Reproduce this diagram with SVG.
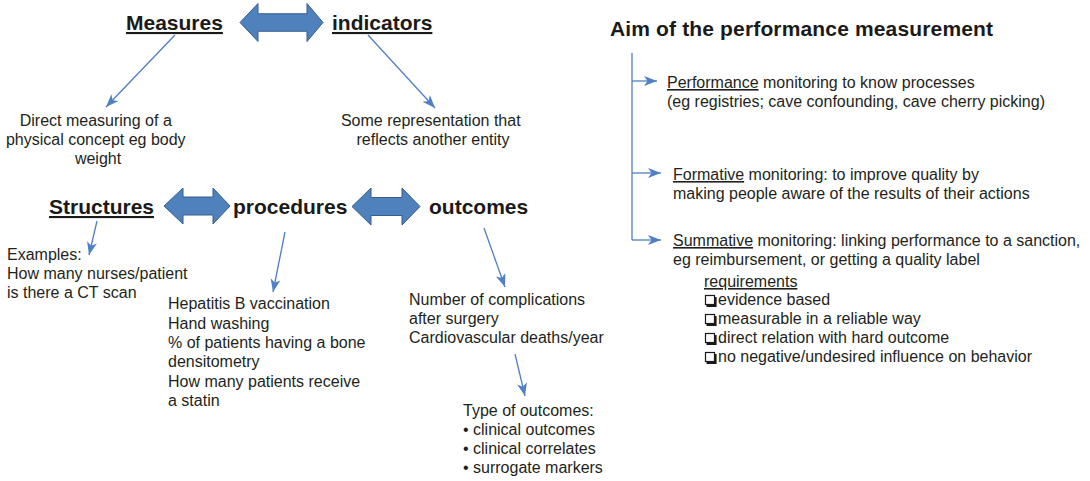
<svg xmlns="http://www.w3.org/2000/svg" width="1090" height="481" viewBox="0 0 1090 481">
  <style>
    .head { font-family: "Liberation Sans", Arial, sans-serif; font-size: 21px; font-weight: bold; fill: #1a1a1a; }
    .body { font-family: "Liberation Sans", Arial, sans-serif; font-size: 16px; fill: #231f20; }
    .ul { text-decoration: underline; }
    .dbl { fill: #4f81bd; stroke: #385d8a; stroke-width: 1; stroke-linejoin: miter; }
    .conn { fill: none; stroke: #4f7fc4; stroke-width: 1.3; }
    .box { fill: #fff; stroke: #1a1a1a; stroke-width: 1.2; }
    .boxshadow { fill: none; stroke: #1a1a1a; stroke-width: 2.2; }
  </style>
  <defs>
    <marker id="tip" markerUnits="userSpaceOnUse" markerWidth="15" markerHeight="11" refX="13" refY="5" orient="auto" viewBox="0 0 15 11">
      <path d="M0,0 L13,5 L0,10 L3.5,5 Z" fill="#4f7fc4"/>
    </marker>
  </defs>
  <rect width="1090" height="481" fill="#ffffff"/>

  <!-- Top pair: measures vs indicators -->
  <g id="measures">
    <text class="head" x="126" y="30"><tspan class="ul">Measures</tspan></text>
  </g>
  <g id="indicators">
    <text class="head" x="332" y="30"><tspan class="ul">indicators</tspan></text>
  </g>
  <g id="arrow-measures-indicators">
    <path class="dbl" d="M240,22.5 L258,3.5 L258,13.75 L307,13.75 L307,3.5 L323,22.5 L307,41.5 L307,31.25 L258,31.25 L258,41.5 Z"/>
  </g>
  <g id="measures-def">
    <text class="body" text-anchor="middle">
      <tspan x="98" y="126">Direct measuring of a</tspan>
      <tspan x="98" y="145">physical concept eg body</tspan>
      <tspan x="98" y="163.5">weight</tspan>
    </text>
  </g>
  <g id="indicators-def">
    <text class="body" text-anchor="middle">
      <tspan x="433" y="126">Some representation that</tspan>
      <tspan x="433" y="145">reflects another entity</tspan>
    </text>
  </g>

  <!-- Donabedian triad -->
  <g id="structures">
    <text class="head" x="49" y="214"><tspan class="ul">Structures</tspan></text>
  </g>
  <g id="procedures">
    <text class="head" x="233" y="214">procedures</text>
  </g>
  <g id="outcomes">
    <text class="head" x="429" y="214">outcomes</text>
  </g>
  <g id="arrow-structures-procedures">
    <path class="dbl" d="M164,206 L183,188 L183,197 L213,197 L213,188 L230,206 L213,224 L213,215 L183,215 L183,224 Z"/>
  </g>
  <g id="arrow-procedures-outcomes">
    <path class="dbl" d="M352,206.5 L371,188 L371,197.5 L402,197.5 L402,188 L420,206.5 L402,225 L402,215.5 L371,215.5 L371,225 Z"/>
  </g>
  <g id="structures-examples">
    <text class="body">
      <tspan x="7" y="260">Examples:</tspan>
      <tspan x="7" y="279">How many nurses/patient</tspan>
      <tspan x="7" y="298">is there a CT scan</tspan>
    </text>
  </g>
  <g id="procedures-examples">
    <text class="body">
      <tspan x="168" y="309">Hepatitis B vaccination</tspan>
      <tspan x="168" y="328.5">Hand washing</tspan>
      <tspan x="168" y="348">% of patients having a bone</tspan>
      <tspan x="168" y="367">densitometry</tspan>
      <tspan x="168" y="386.5">How many patients receive</tspan>
      <tspan x="168" y="406">a statin</tspan>
    </text>
  </g>
  <g id="outcomes-examples">
    <text class="body">
      <tspan x="409" y="305">Number of complications</tspan>
      <tspan x="409" y="324">after surgery</tspan>
      <tspan x="409" y="343">Cardiovascular deaths/year</tspan>
    </text>
  </g>
  <g id="outcome-types">
    <text class="body">
      <tspan x="463" y="416">Type of outcomes:</tspan>
      <tspan x="463" y="435">• clinical outcomes</tspan>
      <tspan x="463" y="454">• clinical correlates</tspan>
      <tspan x="463" y="473">• surrogate markers</tspan>
    </text>
  </g>

  <!-- Aims panel -->
  <g id="aim-title">
    <text class="head" x="610" y="36" textLength="383" lengthAdjust="spacing">Aim of the performance measurement</text>
  </g>
  <g id="aim-performance">
    <text class="body">
      <tspan x="667" y="88"><tspan class="ul">Performance</tspan> monitoring to know processes</tspan>
      <tspan x="667" y="107">(eg registries; cave confounding, cave cherry picking)</tspan>
    </text>
  </g>
  <g id="aim-formative">
    <text class="body">
      <tspan x="673" y="180"><tspan class="ul">Formative</tspan> monitoring: to improve quality by</tspan>
      <tspan x="673" y="199">making people aware of the results of their actions</tspan>
    </text>
  </g>
  <g id="aim-summative">
    <text class="body">
      <tspan x="673" y="246"><tspan class="ul">Summative</tspan> monitoring: linking performance to a sanction,</tspan>
      <tspan x="673" y="265">eg reimbursement, or getting a quality label</tspan>
    </text>
  </g>
  <g id="requirements">
    <text class="body" x="704" y="287"><tspan class="ul">requirements</tspan></text>
    <g id="req-boxes">
      <path class="boxshadow" d="M715.5,297 V306 H706.5"/>
      <rect class="box" x="705.5" y="295.5" width="9" height="9"/>
      <path class="boxshadow" d="M715.5,316 V325 H706.5"/>
      <rect class="box" x="705.5" y="314.5" width="9" height="9"/>
      <path class="boxshadow" d="M715.5,335 V344 H706.5"/>
      <rect class="box" x="705.5" y="333.5" width="9" height="9"/>
      <path class="boxshadow" d="M715.5,354 V363 H706.5"/>
      <rect class="box" x="705.5" y="352.5" width="9" height="9"/>
    </g>
    <text class="body">
      <tspan x="718" y="305">evidence based</tspan>
      <tspan x="718" y="324">measurable in a reliable way</tspan>
      <tspan x="718" y="343">direct relation with hard outcome</tspan>
      <tspan x="718" y="362">no negative/undesired influence on behavior</tspan>
    </text>
  </g>

  <!-- Connectors -->
  <g id="connectors">
    <path class="conn" marker-end="url(#tip)" d="M175,35 L106,107"/>
    <path class="conn" marker-end="url(#tip)" d="M368,35 L435,108"/>
    <path class="conn" marker-end="url(#tip)" d="M97,221 L89,255"/>
    <path class="conn" marker-end="url(#tip)" d="M285,232 L273,292"/>
    <path class="conn" marker-end="url(#tip)" d="M484,228 L505,287"/>
    <path class="conn" marker-end="url(#tip)" d="M515,354 L525,396"/>
    <path class="conn" d="M632,53 V240"/>
    <path class="conn" marker-end="url(#tip)" d="M632,81 H657"/>
    <path class="conn" marker-end="url(#tip)" d="M632,173 H661"/>
    <path class="conn" marker-end="url(#tip)" d="M632,240 H661"/>
  </g>
</svg>
